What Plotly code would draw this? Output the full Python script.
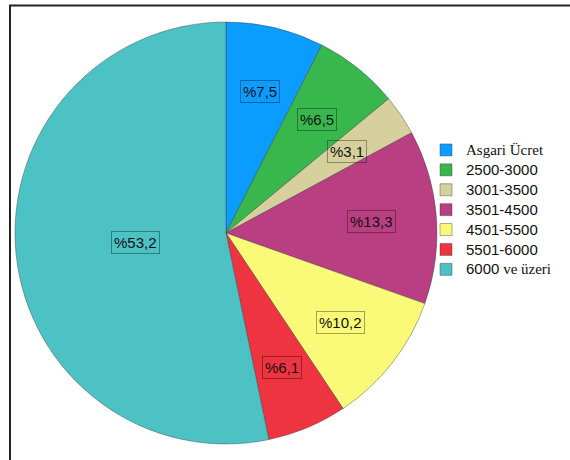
import re
import numpy as np
import plotly.graph_objects as go

# Income groups and their shares (%)
categories = ["Asgari Ücret", "2500-3000", "3001-3500", "3501-4500",
              "4501-5500", "5501-6000", "6000 ve üzeri"]
shares = [7.5, 6.5, 3.1, 13.3, 10.2, 6.1, 53.2]
colors = ["#0b9cff", "#38b84c", "#d5d09c", "#b93f82",
          "#fafa78", "#ee3440", "#4cc2c5"]

W, H = 570, 460
# pie placement in pixels (from top-left)
cx, cy, R = 226, 233, 211


def mixed_font(label):
    # digits in a sans face, words in a serif face, all at 15px
    parts = re.split(r"([0-9\-]+)", label)
    out = []
    for p in parts:
        if not p:
            continue
        if re.fullmatch(r"[0-9\-]+", p):
            out.append('<span style="font-size:15px">%s</span>' % p)
        else:
            out.append('<span style="font-family:\'Liberation Serif\';font-size:15px">%s</span>' % p)
    return "".join(out)


legend_names = [mixed_font(c) for c in categories]

fig = go.Figure(go.Pie(
    labels=legend_names,
    values=shares,
    marker=dict(colors=colors, line=dict(color="rgba(60,60,60,0.6)", width=0.7)),
    sort=False,
    direction="clockwise",
    rotation=0,
    textinfo="none",
    hoverinfo="label+percent",
    domain=dict(x=[(cx - R) / W, (cx + R) / W],
                y=[(H - cy - R) / H, (H - cy + R) / H]),
))

# boxed percentage labels at each slice's mid-angle
vals = np.array(shares)
total = vals.sum()
starts = np.concatenate([[0], np.cumsum(vals)[:-1]]) / total
mids = (starts + vals / total / 2) * 2 * np.pi
annotations = []
for v, a in zip(vals, mids):
    rf = 0.43 if v / total > 0.4 else 0.69
    px = cx + rf * R * np.sin(a)
    py = cy - rf * R * np.cos(a)
    annotations.append(dict(
        x=px / W, y=1 - py / H, xref="paper", yref="paper",
        xanchor="center", yanchor="middle",
        text="%" + ("%.1f" % v).replace(".", ","),
        showarrow=False,
        font=dict(family="Liberation Sans", size=15, color="#111"),
        bordercolor="rgba(0,0,0,0.35)", borderwidth=1, borderpad=2,
    ))

fig.update_layout(
    width=W, height=H,
    margin=dict(l=0, r=0, t=0, b=0),
    paper_bgcolor="white",
    showlegend=True,
    legend=dict(
        x=426 / W, y=1 - 135 / H, xanchor="left", yanchor="top",
        font=dict(family="Liberation Sans", size=13, color="#111"),
        bgcolor="rgba(0,0,0,0)", tracegroupgap=0,
    ),
    annotations=annotations,
    shapes=[dict(type="rect", xref="paper", yref="paper",
                 x0=10 / W, x1=1.05, y0=-0.05, y1=1 - 5.5 / H,
                 line=dict(color="#222", width=2), layer="above")],
)

fig.write_html("out.html")
